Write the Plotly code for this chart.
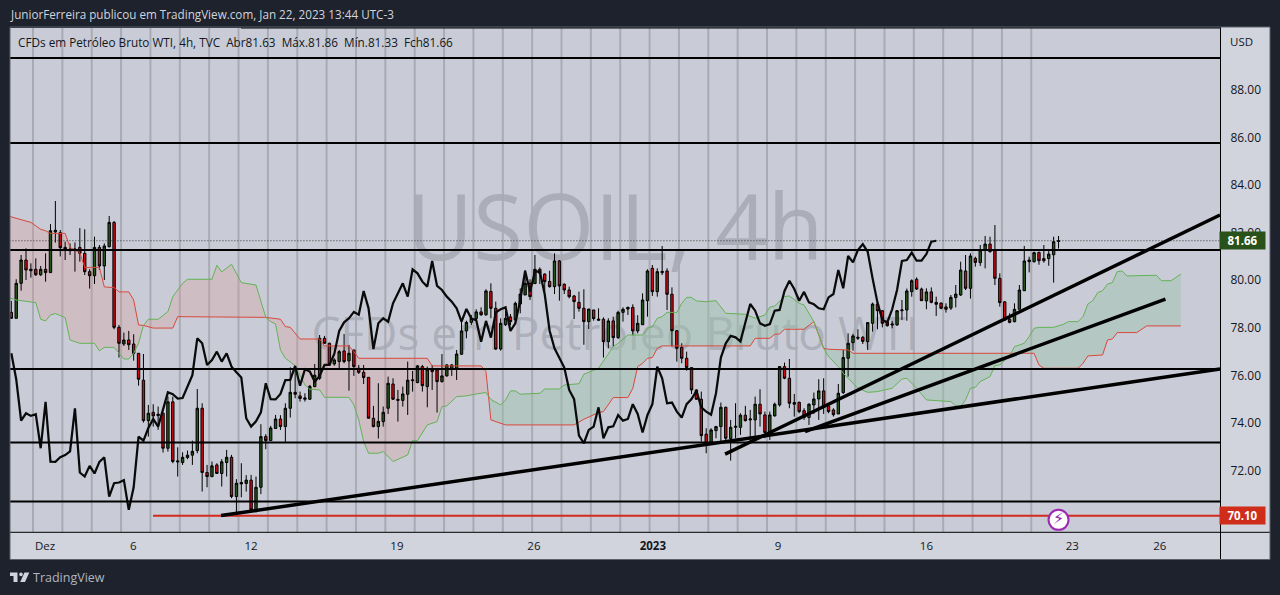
import numpy as np
import plotly.graph_objects as go

# OHLC of the 4h bars
opens = [78.65,78.40,79.87,80.85,80.40,80.46,80.23,80.46,80.32,82.03,82.00,81.27,81.24,81.26,81.38,81.13,80.36,80.19,81.38,80.60,
 81.41,82.43,78.02,77.32,77.49,77.32,76.93,75.80,74.10,74.45,74.31,74.41,72.94,74.89,72.41,72.34,72.55,72.65,72.84,74.62,
 71.92,71.75,72.24,71.88,72.34,72.56,70.91,71.44,71.46,71.60,70.35,71.30,73.43,73.26,73.77,74.17,73.85,74.62,75.29,75.14,
 75.00,75.00,75.53,75.88,77.56,77.35,76.48,76.58,77.03,76.61,77.07,76.30,76.13,75.92,74.20,73.85,74.06,74.62,75.64,74.95,
 74.95,75.21,75.78,75.70,76.37,75.53,76.26,76.23,75.74,75.98,76.30,76.30,76.89,77.87,78.23,78.39,78.67,78.55,79.53,78.82,
 77.11,78.13,78.46,78.33,79.00,79.38,79.87,79.86,80.46,80.26,79.95,79.73,80.81,79.83,79.59,79.34,79.07,78.82,78.26,78.75,
 78.37,78.36,77.42,78.29,77.59,78.65,78.79,78.86,77.87,78.13,79.14,80.50,79.52,80.32,80.39,79.41,77.88,77.18,76.72,76.33,
 75.39,75.00,73.53,73.19,73.68,73.85,74.66,73.35,73.82,73.82,74.33,74.13,74.13,74.79,74.34,73.50,74.30,74.76,76.37,75.88,
 74.79,74.87,74.52,74.23,74.76,75.01,75.35,74.72,74.55,74.38,75.28,76.72,77.38,77.56,77.60,77.42,78.19,79.00,78.72,78.25,
 78.12,78.12,78.72,78.75,79.52,80.04,79.63,79.13,79.51,79.07,79.04,78.88,78.83,79.27,79.38,80.39,79.66,80.92,80.74,81.27,
 81.52,81.27,80.08,79.09,78.36,78.26,78.78,79.56,80.78,80.78,81.17,80.91,80.91,81.07,81.63]
highs = [79.13,80.04,81.06,81.34,80.71,80.92,80.60,81.13,82.36,83.33,82.11,81.62,81.55,81.59,82.19,82.14,80.46,81.83,81.48,81.55,
 82.70,82.49,78.12,77.80,77.87,77.73,76.93,76.90,74.76,74.79,74.69,74.44,75.11,75.11,72.98,72.77,72.84,73.26,75.43,74.83,
 72.24,72.38,72.31,72.48,72.87,72.66,71.64,72.31,71.81,71.82,71.75,73.95,73.53,73.88,74.34,74.33,74.83,76.34,76.37,75.32,
 75.25,75.60,76.48,77.70,77.66,77.38,76.72,77.07,77.74,77.28,77.07,76.44,76.44,75.92,74.72,75.67,74.69,75.95,75.88,75.39,
 75.53,76.58,76.19,76.44,76.44,76.37,76.44,76.26,76.90,76.48,76.48,77.07,78.26,78.30,78.54,78.78,78.86,79.62,79.87,79.10,
 78.40,78.72,78.58,79.10,79.66,80.43,80.04,81.06,80.54,80.29,80.40,81.13,80.85,79.87,79.73,79.38,79.52,79.62,78.79,78.75,
 78.82,78.44,78.40,78.47,78.72,78.86,78.89,78.99,78.53,79.45,80.46,80.64,80.50,81.44,80.50,79.70,77.91,77.35,77.00,76.33,
 75.42,75.32,73.78,73.78,73.88,74.86,74.69,74.13,74.83,74.41,74.72,74.55,75.11,75.42,74.48,74.48,74.86,76.37,76.54,76.69,
 75.22,74.90,74.62,74.83,75.28,75.84,75.88,74.76,74.62,75.64,77.07,77.77,77.74,77.94,77.66,78.22,79.06,79.03,78.75,78.30,
 78.29,78.75,79.17,79.65,80.04,80.12,79.69,79.66,79.70,79.31,79.07,79.03,79.38,79.80,80.78,81.06,81.13,80.99,81.48,81.86,
 81.83,82.32,80.29,79.13,78.61,79.03,79.80,81.44,80.99,81.20,81.20,81.48,81.24,81.83,81.86]
lows = [78.40,78.40,79.56,80.01,80.11,80.18,80.18,79.94,80.32,81.58,81.00,80.85,81.06,80.36,80.78,80.22,79.65,79.84,80.43,80.01,
 81.38,77.94,76.75,77.24,77.07,76.62,75.57,74.02,73.43,73.85,73.71,72.76,72.80,72.31,71.75,72.24,72.48,72.24,72.73,71.12,
 71.30,71.72,71.86,71.33,71.75,70.84,70.07,70.88,71.12,70.32,70.24,71.01,72.90,73.26,73.77,73.71,73.21,74.23,75.04,74.90,
 74.90,74.97,75.50,75.81,77.32,76.40,76.41,76.30,76.51,75.36,75.98,76.06,75.64,74.20,73.82,73.35,73.85,74.38,74.97,74.06,
 74.69,74.34,75.32,75.67,75.32,74.66,75.39,74.44,75.70,75.95,75.98,75.81,76.86,77.56,78.12,78.33,78.50,78.50,78.40,77.07,
 77.04,78.08,78.12,78.16,78.61,79.38,79.17,79.84,79.84,79.52,79.69,79.42,79.14,79.42,79.24,78.37,78.68,77.29,77.95,78.30,
 78.30,76.75,77.14,77.21,77.53,78.26,78.54,77.69,77.77,78.12,78.47,79.34,79.31,80.22,78.75,77.21,76.58,76.51,76.20,75.22,
 74.97,73.22,72.73,73.15,73.36,73.22,73.22,72.42,73.36,73.50,74.06,73.22,73.46,73.85,73.36,73.29,74.27,74.69,75.84,74.62,
 74.27,74.41,74.13,73.92,74.38,74.13,74.38,74.41,74.27,74.38,75.22,75.95,77.04,77.49,77.32,77.07,77.84,77.94,78.02,78.05,
 77.98,78.09,78.33,78.30,79.31,79.59,79.13,78.78,79.03,78.50,78.78,78.64,78.75,78.86,79.34,79.59,79.23,80.57,80.60,80.50,
 81.16,79.80,78.89,78.29,78.19,78.23,78.78,79.56,80.33,80.74,80.65,80.74,80.61,79.90,81.33]
closes = [78.40,79.87,80.85,80.43,80.46,80.23,80.46,80.32,82.08,82.10,81.37,81.38,81.31,81.31,81.13,80.36,80.19,81.38,80.60,81.44,
 82.43,78.02,77.35,77.49,77.29,76.93,75.84,74.10,74.41,74.30,74.37,72.94,74.89,72.38,72.37,72.56,72.65,72.81,74.62,71.92,
 71.75,72.20,71.88,72.37,72.56,70.91,71.47,71.50,71.60,70.35,71.30,73.43,73.26,73.79,74.17,73.85,74.62,75.29,75.21,75.03,
 75.05,75.54,76.01,77.56,77.35,76.44,76.65,77.00,76.58,76.93,76.37,76.13,75.91,74.20,73.85,74.07,74.45,75.67,75.00,74.99,
 75.22,75.80,75.81,76.40,75.57,76.26,76.16,75.74,75.98,76.44,76.44,76.90,77.87,78.23,78.40,78.67,78.55,79.55,78.82,77.11,
 78.19,78.40,78.26,79.03,79.42,79.87,79.31,80.46,80.29,79.94,79.73,80.81,79.76,79.59,79.31,79.10,78.82,78.26,78.79,78.39,
 78.32,77.42,78.29,77.59,78.65,78.78,78.86,77.87,78.19,79.17,80.39,79.52,80.36,80.37,79.41,77.88,77.14,76.72,76.33,75.39,
 75.00,73.47,73.15,73.71,73.85,74.66,73.36,73.82,73.86,74.33,74.10,74.17,74.79,74.38,73.60,74.34,74.79,76.37,75.88,74.83,
 74.86,74.48,74.23,74.79,75.01,75.35,74.66,74.48,74.35,75.25,76.75,77.35,77.66,77.60,77.43,78.22,79.00,78.72,78.19,78.09,
 78.16,78.72,78.75,79.55,79.98,79.63,79.14,79.51,79.07,78.99,78.82,78.78,79.28,79.42,80.43,79.66,81.02,80.75,81.27,81.52,
 81.20,80.08,79.06,78.33,78.23,78.78,79.59,80.81,80.85,81.16,80.82,80.82,81.10,81.62,81.66]

# Ichimoku cloud edges: bar position and price of each vertex
red_x = [-1,2,4,6,7,8,11,12,14,15,18,19,21,22,24,25,26,27,29,33,34,52,55,56,57,59,63,64,69,70,71,85,86,96,97,98,101,115,117,120,121,123,126,127,128,129,130,131,132,133,151,152,155,156,157,158,162,164,166,167,171,172,209,210,211,218,219,220,223,224,225,226,230,232,239]
red_y = [82.72,82.56,82.43,82.14,82.08,81.97,81.97,81.38,81.16,80.54,80.54,79.72,79.69,79.51,79.51,79.17,78.12,78.10,77.99,77.99,78.47,78.44,78.36,78.05,78.02,77.53,77.53,77.24,77.24,77.00,76.72,76.72,76.40,76.40,76.16,74.13,73.92,73.92,74.16,74.44,74.48,75.07,75.07,75.46,76.37,76.51,76.72,76.75,77.14,77.24,77.24,77.56,77.56,77.73,77.74,77.94,77.94,78.26,77.14,77.10,77.07,76.93,76.93,76.44,76.30,76.30,76.51,76.82,76.86,77.49,77.53,77.80,77.80,78.08,78.08]
green_x = [-1,1,5,6,7,8,9,11,12,14,17,18,19,21,23,24,25,26,27,28,30,32,33,35,36,41,42,43,45,47,50,52,53,54,55,56,58,60,61,63,64,69,70,71,72,73,75,76,78,81,82,83,85,87,88,89,91,93,95,97,98,100,101,102,103,104,108,109,112,113,116,117,120,122,123,124,126,129,130,131,132,133,134,136,137,138,139,140,142,144,146,150,152,154,155,156,158,159,161,162,163,164,165,166,167,169,170,171,173,175,177,180,182,183,185,187,192,193,194,195,196,197,198,200,201,202,204,205,207,208,209,210,213,215,216,218,219,220,221,222,223,224,225,226,227,228,234,235,237,239]
green_y = [79.30,79.17,79.06,78.36,78.29,78.54,78.60,78.43,77.49,77.35,77.35,77.03,77.18,77.18,76.69,76.69,76.93,77.35,78.10,78.36,78.36,78.68,79.31,79.87,80.04,80.04,80.63,80.35,80.67,79.90,79.80,78.44,78.26,78.16,77.07,76.72,76.41,75.60,75.42,75.39,75.08,75.08,74.76,74.13,73.22,72.73,72.73,72.80,72.38,72.66,73.26,73.26,73.92,74.06,74.69,74.72,75.11,75.14,75.22,75.28,74.99,74.76,74.97,75.35,75.35,75.21,75.25,75.43,75.43,75.60,75.65,76.05,76.30,76.93,77.21,77.35,77.70,77.70,77.98,78.05,78.40,78.47,78.65,78.65,79.03,79.28,79.28,79.13,79.10,79.14,78.61,78.57,78.40,78.54,78.87,78.92,79.31,79.34,79.03,78.96,78.61,78.26,77.70,77.14,76.79,76.37,76.09,75.88,75.46,75.29,75.32,75.46,75.85,75.88,75.46,74.97,74.90,74.72,74.69,74.97,75.46,75.50,75.74,75.95,76.41,76.44,76.82,77.21,77.35,77.63,77.98,78.02,78.02,78.15,78.26,78.26,78.47,79.00,79.14,79.48,79.56,79.84,79.90,80.36,80.39,80.18,80.21,79.98,79.98,80.26]

# Horizontal levels and drawn trendlines (bar position, price)
levels = [89.34, 85.77, 81.27, 76.27, 73.18, 70.70]
support_price = 70.10
support_start = 28.96
last_price = 81.66
trend_x = [[42.86, 247.0], [145.86, 247.0], [162.2, 235.85]]
trend_y = [[70.11, 76.27], [72.69, 82.74], [73.64, 79.21]]

# Axis labels
price_ticks = [72, 74, 76, 78, 80, 82, 84, 86, 88]
date_pos = [6.9, 24.9, 49, 78.8, 106.8, 131.1, 156.7, 187, 216.8, 234.7]
date_text = ["Dez", "6", "12", "19", "26", "<b>2023</b>", "9", "16", "23", "26"]
session_lines = [4.43 + 6 * k for k in range(35)]

bars = list(range(len(closes)))
W, H = 1280, 595
L, R, T, B = 10, 1221, 28, 532
FONT = "Open Sans"
INK = "#131722"


def px(x):
    return (x - L) / (R - L)


def py(y):
    return (B - y) / (B - T)


def cloud_paths():
    """Split the cloud where its edges cross; each part is one closed polygon."""
    xs = np.union1d(red_x, green_x).astype(float)
    r = np.interp(xs, red_x, red_y)
    g = np.interp(xs, green_x, green_y)
    parts = []
    run = [(xs[0], r[0], g[0])]
    for i in range(1, len(xs)):
        d0, d1 = r[i - 1] - g[i - 1], r[i] - g[i]
        if d0 * d1 < 0:
            t = d0 / (d0 - d1)
            cx = xs[i - 1] + t * (xs[i] - xs[i - 1])
            cy = r[i - 1] + t * (r[i] - r[i - 1])
            run.append((cx, cy, cy))
            parts.append(run)
            run = [(cx, cy, cy)]
        run.append((xs[i], r[i], g[i]))
    parts.append(run)
    out = []
    for run in parts:
        top = [f"{a:.3f},{b:.3f}" for a, b, _ in run]
        bot = [f"{a:.3f},{c:.3f}" for a, _, c in reversed(run)]
        pts = top + bot
        path = "M" + " L".join(p.replace(",", " ") for p in pts) + " Z"
        bearish = sum(b - c for _, b, c in run) > 0
        out.append((path, bearish))
    return out


shapes = []
# Right and bottom scale panels
for x0, x1, y0, y1 in [(R, 1270, 27, 559), (L, R, B, 559)]:
    shapes.append(dict(type="rect", xref="paper", yref="paper", layer="below",
                       x0=px(x0), x1=px(x1), y0=py(y0), y1=py(y1),
                       fillcolor="#d1d4dc", line_width=0))
# Symbol watermark
for text, cy, size in [("USOIL, 4h", 231, 91.5), ("CFDs em Petróleo Bruto WTI", 335, 46)]:
    shapes.append(dict(type="rect", xref="paper", yref="paper", layer="below",
                       x0=px(515), x1=px(715), y0=py(cy + 5), y1=py(cy - 5),
                       fillcolor="rgba(0,0,0,0)", line_width=0,
                       label=dict(text=text, textposition="middle center",
                                  font=dict(family=FONT, size=size, color="rgba(120,123,134,0.36)"))))
# Session separators
for s in session_lines:
    shapes.append(dict(type="line", xref="x", yref="paper", layer="below",
                       x0=s, x1=s, y0=0, y1=1, line=dict(color="#a9abb4", width=2)))
# Cloud fill
for path, bearish in cloud_paths():
    shapes.append(dict(type="path", xref="x", yref="y", layer="below", path=path, line_width=0,
                       fillcolor="rgba(221,150,150,0.28)" if bearish else "rgba(154,194,167,0.42)"))
# Scale borders and frame
shapes += [
    dict(type="line", xref="paper", yref="paper", x0=px(1220.5), x1=px(1220.5), y0=py(27), y1=py(559),
         line=dict(color="#000000", width=1)),
    dict(type="line", xref="paper", yref="paper", x0=px(10), x1=px(1270), y0=py(532.3), y1=py(532.3),
         line=dict(color="#000000", width=1)),
    dict(type="line", xref="paper", yref="paper", x0=px(241), x1=px(1220), y0=py(28), y1=py(28),
         line=dict(color="#000000", width=1)),
    dict(type="rect", xref="paper", yref="paper", x0=px(10), x1=px(1270), y0=py(27), y1=py(559.5),
         line=dict(color="#5d606b", width=1), fillcolor="rgba(0,0,0,0)"),
]
# Brand mark in the footer
logo = "#d1d4dc"
shapes += [
    dict(type="path", xref="paper", yref="paper", line_width=0, fillcolor=logo,
         path=f"M{px(10)} {py(572.5)} L{px(17.5)} {py(572.5)} L{px(17.5)} {py(582)} L{px(13.5)} {py(582)} "
              f"L{px(13.5)} {py(576)} L{px(10)} {py(576)} Z"),
    dict(type="circle", xref="paper", yref="paper", line_width=0, fillcolor=logo,
         x0=px(19.2), x1=px(22.8), y0=py(576.2), y1=py(572.6)),
    dict(type="path", xref="paper", yref="paper", line_width=0, fillcolor=logo,
         path=f"M{px(24.5)} {py(572.5)} L{px(29.3)} {py(572.5)} L{px(25)} {py(582)} L{px(20.2)} {py(582)} Z"),
]

fig = go.Figure()
fig.add_trace(go.Candlestick(
    x=bars, open=opens, high=highs, low=lows, close=closes,
    increasing=dict(line=dict(color="#000000", width=1), fillcolor="#27541a"),
    decreasing=dict(line=dict(color="#000000", width=1), fillcolor="#d00a14"),
    whiskerwidth=0, hoverinfo="skip"))
fig.add_trace(go.Scatter(x=red_x, y=red_y, mode="lines", line=dict(color="#d9483b", width=1)))
fig.add_trace(go.Scatter(x=green_x, y=green_y, mode="lines", line=dict(color="#62b356", width=1)))
# Lagging span: each close plotted 25 bars back
lag = 25
fig.add_trace(go.Scatter(x=bars[:-lag], y=closes[lag:], mode="lines", line=dict(color="#0a0a0a", width=2.25)))
for lv in levels:
    fig.add_trace(go.Scatter(x=[-1, 248], y=[lv, lv], mode="lines", line=dict(color="#000000", width=2)))
fig.add_trace(go.Scatter(x=[-1, 248], y=[last_price, last_price], mode="lines",
                         line=dict(color="#333333", width=1, dash="1px,2px")))
fig.add_trace(go.Scatter(x=[support_start, 248], y=[support_price, support_price], mode="lines",
                         line=dict(color="#d32a1e", width=2)))
for tx, ty in zip(trend_x, trend_y):
    fig.add_trace(go.Scatter(x=tx, y=ty, mode="lines", line=dict(color="#000000", width=3.5)))
fig.add_trace(go.Scatter(x=[214], y=[69.93], mode="markers+text", text=["<b>⚡</b>"], textposition="middle center",
                         textfont=dict(color="#8e24aa", size=16, family="DejaVu Sans"),
                         marker=dict(size=20, color="#ffffff", line=dict(color="#9c27b0", width=2))))

annotations = [
    dict(xref="paper", yref="paper", x=px(8), y=py(14), xanchor="left", yanchor="middle", showarrow=False,
         text="JuniorFerreira publicou em TradingView.com, Jan 22, 2023 13:44 UTC-3",
         font=dict(family=FONT, size=11.7, color="#d1d4dc")),
    dict(xref="paper", yref="paper", x=px(16), y=py(42), xanchor="left", yanchor="middle", showarrow=False,
         text="CFDs em Petróleo Bruto WTI, 4h, TVC  Abr81.63  Máx.81.86  Mín.81.33  Fch81.66",
         font=dict(family=FONT, size=11.75, color=INK)),
    dict(xref="paper", yref="paper", x=px(1228), y=py(41), xanchor="left", yanchor="middle", showarrow=False,
         text="USD", font=dict(family=FONT, size=11.5, color=INK)),
    dict(xref="paper", yref="paper", x=px(31), y=py(577), xanchor="left", yanchor="middle", showarrow=False,
         text="TradingView", font=dict(family=FONT, size=12.5, color="#b2b5be")),
]
for price, color in [(last_price, "#29521a"), (support_price, "#cf2c1a")]:
    annotations.append(dict(xref="paper", yref="y", x=px(1218.5), y=price, xanchor="left", yanchor="middle",
                            showarrow=False, text=f"<b>{price:.2f}</b>", width=45, height=16.5, bgcolor=color,
                            borderpad=0, align="center", font=dict(family=FONT, size=11.5, color="#ffffff")))

fig.update_layout(
    width=W, height=H, margin=dict(l=L, r=W - R, t=T, b=H - B, autoexpand=False),
    paper_bgcolor="#1e222d", plot_bgcolor="#c9ccd6", showlegend=False, hovermode=False,
    shapes=shapes, annotations=annotations,
    xaxis=dict(range=[-0.27, 247.2], rangeslider=dict(visible=False), showgrid=False, zeroline=False,
               tickmode="array", tickvals=date_pos, ticktext=date_text,
               ticks="outside", ticklen=3, tickcolor="rgba(0,0,0,0)", tickangle=0,
               tickfont=dict(family=FONT, size=11.5, color=INK)),
    yaxis=dict(range=[69.42, 90.60], side="right", showgrid=False, zeroline=False,
               tickmode="array", tickvals=price_ticks, ticktext=[f"{v:.2f}" for v in price_ticks],
               ticks="outside", ticklen=6, tickcolor="rgba(0,0,0,0)",
               tickfont=dict(family=FONT, size=12, color=INK)),
)
fig.write_html("out.html", config={"displayModeBar": False})
